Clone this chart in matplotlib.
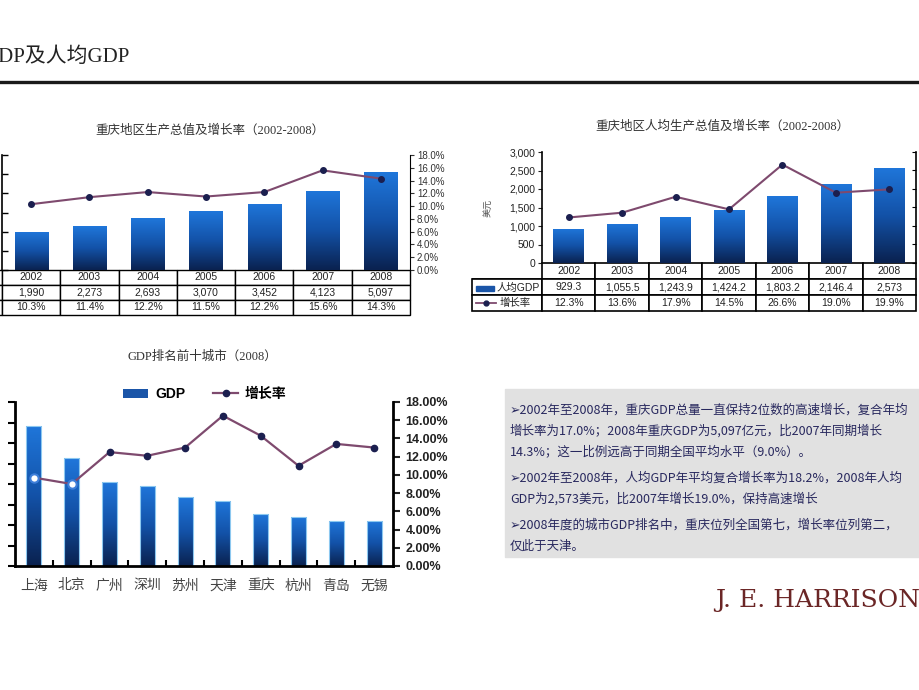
import numpy as np
import matplotlib
matplotlib.use("Agg")
import matplotlib.pyplot as plt
from matplotlib.colors import LinearSegmentedColormap
from matplotlib.patches import Rectangle, Patch
from matplotlib.lines import Line2D

plt.rcParams['font.family'] = ['Liberation Sans', 'Noto Sans CJK SC', 'DejaVu Sans']
SERIF = ['Liberation Serif', 'Noto Sans CJK SC', 'DejaVu Sans']
CJK = ['Noto Sans CJK SC', 'DejaVu Sans']

# ---- data ----
years = ['2002', '2003', '2004', '2005', '2006', '2007', '2008']
gdp = [1990, 2273, 2693, 3070, 3452, 4123, 5097]            # 亿元
gdp_rate = [10.3, 11.4, 12.2, 11.5, 12.2, 15.6, 14.3]        # %
pcap = [929.3, 1055.5, 1243.9, 1424.2, 1803.2, 2146.4, 2573]  # 美元
pcap_rate = [12.3, 13.6, 17.9, 14.5, 26.6, 19.0, 19.9]       # %

cities = ['上海', '北京', '广州', '深圳', '苏州', '天津', '重庆', '杭州', '青岛', '无锡']
city_gdp = [13698, 10488, 8216, 7807, 6701, 6354, 5097, 4781, 4436, 4419]
city_rate = [9.7, 9.0, 12.5, 12.1, 13.0, 16.5, 14.3, 11.0, 13.4, 13.0]

notes = [
    '➢2002年至2008年，重庆GDP总量一直保持2位数的高速增长，复合年均',
    '增长率为17.0%；2008年重庆GDP为5,097亿元，比2007年同期增长',
    '14.3%；这一比例远高于同期全国平均水平（9.0%）。',
    '➢2002年至2008年，人均GDP年平均复合增长率为18.2%，2008年人均',
    'GDP为2,573美元，比2007年增长19.0%，保持高速增长',
    '➢2008年度的城市GDP排名中，重庆位列全国第七，增长率位列第二，',
    '仅此于天津。',
]
note_y = [410, 431, 452, 478, 499, 525, 546]

W, H = 920, 690
LINE_C = '#7e4a6e'
DOT_C = '#1b1f4f'
blue_cmap = LinearSegmentedColormap.from_list('barblue', ['#0a2250', '#1352a8', '#1f76da'])


def box(x0, y0, x1, y1):
    return [x0 / W, 1 - y1 / H, (x1 - x0) / W, (y1 - y0) / H]


def fxy(x, y):
    return (x / W, 1 - y / H)


def shade(ax, bars, edge=None):
    # vertical gradient inside each bar
    grad = np.linspace(1, 0, 100).reshape(-1, 1)
    for b in bars:
        x0, y0 = b.get_xy()
        im = ax.imshow(grad, cmap=blue_cmap, vmin=0, vmax=1, aspect='auto', origin='upper',
                       extent=[x0, x0 + b.get_width(), y0, y0 + b.get_height()], zorder=1.5)
        im.set_clip_path(b)
        b.set_facecolor('none')
        if edge:
            b.set_edgecolor(edge)
            b.set_linewidth(0.8)
        else:
            b.set_edgecolor('none')


def fmt_num(v):
    s = '{:,.1f}'.format(v)
    return s[:-2] if s.endswith('.0') else s


fig = plt.figure(figsize=(9.2, 6.9), dpi=100)

# ---- page header ----
fig.text(-17 / W, 1 - 57 / H, 'GDP及人均GDP', fontsize=15, va='center', color='#222222', family=SERIF)
fig.add_artist(Line2D([0, 1], [1 - 82 / H] * 2, lw=2.4, color='#1a1a1a', transform=fig.transFigure))

# ---- chart 1: GDP 2002-2008 ----
fig.text(210 / W, 1 - 131 / H, '重庆地区生产总值及增长率（2002-2008）', fontsize=9, ha='center', va='center',
         color='#333333', family=SERIF)
ax1 = fig.add_axes(box(2, 155, 410, 270))
x = np.arange(len(years))
bars = ax1.bar(x, gdp, width=0.57, zorder=2)
shade(ax1, bars)
ax1.set_xlim(-0.5, len(years) - 0.5)
ax1.set_ylim(0, 6000)
ax1.set_yticks(np.arange(0, 6001, 1000))
ax1.set_yticklabels([])
ax1.set_xticks([])
ax1.tick_params(axis='y', direction='in', length=4, width=1)
for s in ['top', 'right', 'bottom']:
    ax1.spines[s].set_visible(False)
ax1.spines['left'].set_linewidth(1.2)

ax1b = ax1.twinx()
ax1b.plot(x, gdp_rate, color=LINE_C, lw=1.5, marker='o', ms=4, mfc=DOT_C, mec=DOT_C)
ax1b.set_ylim(0, 18)
ax1b.set_yticks(np.arange(0, 19, 2))
ax1b.set_yticklabels(['{:.1f}%'.format(v) for v in np.arange(0, 19, 2)])
ax1b.tick_params(axis='y', direction='out', length=3, labelsize=7, pad=2, colors='#333333')
for s in ['top', 'left', 'bottom']:
    ax1b.spines[s].set_visible(False)
ax1b.spines['right'].set_linewidth(0.8)

hw = 62 / 408
t1 = ax1.table(cellText=[[''] + years,
                         ['GDP'] + ['{:,}'.format(v) for v in gdp],
                         ['增长率'] + ['{:.1f}%'.format(v) for v in gdp_rate]],
               colWidths=[hw] + [1 / len(years)] * len(years),
               bbox=[-hw, -45 / 115, 1 + hw, 45 / 115], cellLoc='center')
t1.auto_set_font_size(False)
t1.set_fontsize(7.5)
for (r, c), cell in t1.get_celld().items():
    cell.set_linewidth(1)
    cell.get_text().set_color('#222222')

# ---- chart 2: GDP per capita ----
fig.text(722 / W, 1 - 127 / H, '重庆地区人均生产总值及增长率（2002-2008）', fontsize=9, ha='center', va='center',
         color='#333333', family=SERIF)
ax2 = fig.add_axes(box(542, 152, 916, 263))
bars = ax2.bar(x, pcap, width=0.57, zorder=2)
shade(ax2, bars)
ax2.set_xlim(-0.5, len(years) - 0.5)
ax2.set_ylim(0, 3000)
ax2.set_yticks(np.arange(0, 3001, 500))
ax2.set_yticklabels(['{:,}'.format(v) for v in range(0, 3001, 500)])
ax2.tick_params(axis='y', direction='out', length=3, labelsize=7.5, pad=2, colors='#222222')
ax2.set_xticks([])
for s in ['top', 'right', 'bottom']:
    ax2.spines[s].set_visible(False)
ax2.spines['left'].set_linewidth(1.2)
fig.text(488 / W, 1 - 208 / H, '美元', fontsize=6.5, rotation=90, ha='center', va='center', color='#555555',
         family=CJK)

ax2b = ax2.twinx()
ax2b.plot(x, pcap_rate, color=LINE_C, lw=1.5, marker='o', ms=4, mfc=DOT_C, mec=DOT_C)
ax2b.set_ylim(0, 30)
ax2b.set_yticks(np.arange(0, 31, 5))
ax2b.set_yticklabels([])
ax2b.tick_params(axis='y', direction='in', length=3)
for s in ['top', 'left', 'bottom']:
    ax2b.spines[s].set_visible(False)
ax2b.spines['right'].set_linewidth(1.2)

hw2 = 70 / 374
t2 = ax2.table(cellText=[[''] + years,
                         [''] + [fmt_num(v) for v in pcap],
                         [''] + ['{:.1f}%'.format(v) for v in pcap_rate]],
               colWidths=[hw2] + [1 / len(years)] * len(years),
               bbox=[-hw2, -48 / 111, 1 + hw2, 48 / 111], cellLoc='center')
t2.auto_set_font_size(False)
t2.set_fontsize(7.5)
for (r, c), cell in t2.get_celld().items():
    cell.set_linewidth(1.2)
    cell.get_text().set_color('#222222')
    if r == 0 and c == 0:
        cell.visible_edges = 'B'
# row keys of the table
fig.add_artist(Rectangle(fxy(476, 291), 18 / W, 5 / H, transform=fig.transFigure, color='#1a55a8'))
fig.text(497 / W, 1 - 288 / H, '人均GDP', fontsize=7.5, va='center', color='#222222')
fig.add_artist(Line2D([476 / W, 496 / W], [1 - 303 / H] * 2, transform=fig.transFigure, color=LINE_C, lw=1.3))
fig.add_artist(Line2D([486 / W], [1 - 303 / H], transform=fig.transFigure, marker='o', ms=3.5, color=DOT_C))
fig.text(500 / W, 1 - 303 / H, '增长率', fontsize=7.5, va='center', color='#222222', family=CJK)

# ---- chart 3: top ten cities ----
fig.text(202 / W, 1 - 357 / H, 'GDP排名前十城市（2008）', fontsize=9, ha='center', va='center',
         color='#333333', family=SERIF)
ax3 = fig.add_axes(box(15, 402, 393, 566))
xc = np.arange(len(cities))
bars = ax3.bar(xc, city_gdp, width=0.4, zorder=2)
shade(ax3, bars, edge='#8cc8f0')
ax3.set_xlim(-0.5, len(cities) - 0.5)
ax3.set_ylim(0, 16000)
ax3.set_yticks(np.arange(0, 16001, 2000))
ax3.set_yticklabels([str(v) for v in range(0, 16001, 2000)], fontweight='bold')
ax3.tick_params(axis='y', direction='out', length=5, width=1.5, labelsize=10, pad=7)
ax3.set_xticks(xc)
ax3.set_xticklabels(cities, family=CJK, fontsize=10, color='#444444')
ax3.tick_params(axis='x', which='major', length=0, pad=9)
ax3.set_xticks(np.arange(0.5, len(cities) - 0.5, 1), minor=True)
ax3.tick_params(axis='x', which='minor', direction='in', length=4, width=1.5)
for s in ['top', 'right']:
    ax3.spines[s].set_visible(False)
ax3.spines['left'].set_linewidth(2)
ax3.spines['bottom'].set_linewidth(2)

ax3b = ax3.twinx()
ax3b.plot(xc, city_rate, color=LINE_C, lw=1.6, marker='o', ms=4.5, mfc=DOT_C, mec=DOT_C, zorder=3)
ax3b.plot(xc[:2], city_rate[:2], ls='none', marker='o', ms=6, mfc='white', mec='#3f7fd9', mew=1.5, zorder=4)
ax3b.set_ylim(0, 18)
ax3b.set_yticks(np.arange(0, 19, 2))
ax3b.set_yticklabels(['{:.2f}%'.format(v) for v in np.arange(0, 19, 2)], fontweight='bold')
ax3b.tick_params(axis='y', direction='out', length=5, width=1.5, labelsize=9, pad=4, colors='#222222')
for s in ['top', 'left', 'bottom']:
    ax3b.spines[s].set_visible(False)
ax3b.spines['right'].set_linewidth(2)

handles = [Patch(facecolor='#1a55a8'),
           Line2D([], [], color=LINE_C, lw=1.6, marker='o', ms=4.5, mfc=DOT_C, mec=DOT_C)]
fig.legend(handles, ['GDP', '增长率'], loc='center', bbox_to_anchor=fxy(205, 394), ncol=2, frameon=False,
           prop={'size': 10, 'weight': 'bold'}, handlelength=1.8, handleheight=0.6, handletextpad=0.5,
           columnspacing=2.0)

# ---- notes box ----
fig.add_artist(Rectangle(fxy(505, 557), 415 / W, 168 / H, transform=fig.transFigure, color='#e1e1e1'))
for line, yy in zip(notes, note_y):
    fig.text(510 / W, 1 - yy / H, line, fontsize=9, va='center', color='#28285e', family=CJK)

# ---- logo ----
fig.text(715 / W, 1 - 601 / H, 'J. E. HARRISON', fontsize=18, va='center', color='#6b2626',
         family='DejaVu Serif')

fig.savefig('out.png', dpi=100)
